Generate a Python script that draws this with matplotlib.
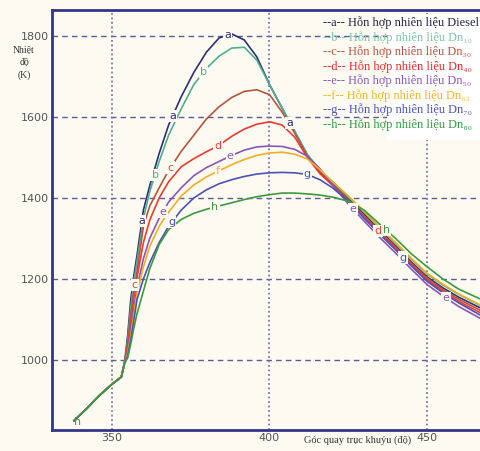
import numpy as np
import matplotlib.pyplot as plt

# crank angle (deg) and temperature (K) for each fuel blend
x = [338, 342, 346, 350, 353, 354, 355, 356, 357, 358, 360, 362, 365, 368, 372, 376,
     380, 384, 388, 392, 396, 400, 404, 408, 412, 416, 420, 425, 430, 435, 440, 445,
     450, 455, 460, 467]
start = [850, 880, 912, 940, 958, 992]

t_a = start + [1060, 1150, 1210, 1260, 1370, 1430, 1510, 1580, 1650, 1710, 1760, 1795, 1805, 1790,
               1748, 1680, 1622, 1563, 1505, 1465, 1437, 1398, 1360, 1320, 1282, 1242, 1205, 1178, 1155, 1128]
t_b = start + [1050, 1130, 1195, 1245, 1350, 1415, 1490, 1555, 1620, 1680, 1720, 1750, 1770, 1772,
               1740, 1680, 1622, 1565, 1508, 1468, 1440, 1402, 1365, 1326, 1288, 1249, 1212, 1185, 1162, 1134]
t_c = start + [1040, 1110, 1170, 1220, 1330, 1380, 1425, 1468, 1515, 1555, 1595, 1625, 1648, 1663,
               1667, 1655, 1612, 1560, 1503, 1462, 1434, 1395, 1356, 1317, 1279, 1239, 1202, 1174, 1150, 1122]
t_d = start + [1030, 1090, 1155, 1205, 1290, 1345, 1400, 1440, 1477, 1497, 1514, 1530, 1552, 1570,
               1582, 1588, 1580, 1550, 1500, 1460, 1431, 1392, 1353, 1314, 1276, 1236, 1198, 1170, 1145, 1116]
t_e = start + [1020, 1070, 1130, 1180, 1250, 1300, 1350, 1390, 1425, 1455, 1475, 1490, 1505, 1518,
               1526, 1528, 1527, 1520, 1503, 1472, 1432, 1385, 1343, 1302, 1264, 1224, 1186, 1158, 1132, 1102]
t_f = start + [1015, 1060, 1115, 1165, 1230, 1280, 1330, 1365, 1405, 1432, 1452, 1467, 1482, 1495,
               1505, 1511, 1513, 1508, 1496, 1470, 1440, 1405, 1367, 1328, 1290, 1251, 1214, 1187, 1163, 1135]
t_g = start + [1010, 1050, 1100, 1150, 1200, 1240, 1290, 1330, 1370, 1400, 1420, 1435, 1445, 1453,
               1459, 1462, 1463, 1462, 1458, 1445, 1425, 1392, 1350, 1310, 1272, 1232, 1194, 1166, 1141, 1110]
t_h = start + [1005, 1040, 1080, 1115, 1170, 1225, 1285, 1322, 1347, 1362, 1372, 1380, 1388, 1396,
               1403, 1408, 1412, 1412, 1410, 1407, 1402, 1392, 1370, 1335, 1300, 1262, 1230, 1200, 1175, 1150]

series = [t_a, t_b, t_c, t_d, t_e, t_f, t_g, t_h]
letters = ['a', 'b', 'c', 'd', 'e', 'f', 'g', 'h']
names = ['Diesel', 'Dn₁₀', 'Dn₃₀', 'Dn₄₀', 'Dn₅₀', 'Dn₆₂', 'Dn₇₀', 'Dn₈₀']
colors = ['#2e2e78', '#4fae8e', '#b4553c', '#ec3a30', '#8a55b8', '#f2ae22', '#4a52b8', '#3c9a3c']
legend_colors = ['#202040', '#7cc4ac', '#b4553c', '#ec2a2a', '#8a55b8', '#f2b622', '#4a52b8', '#2e9a3e']

# where the little letters sit on each curve
label_x = [[359.5, 369.3, 386.8, 406.5],
           [363.7, 379.0],
           [368.6, 357.3],
           [383.7, 434.4],
           [366.2, 387.5, 426.5, 456.0],
           [383.7],
           [369.0, 412.0, 442.4],
           [382.7, 437.0]]

bg = '#fdfbf1'
fig = plt.figure(figsize=(4.81, 4.51), dpi=100, facecolor=bg)
ax = fig.add_axes([52/481, 21/451, 1 - 52/481, 420/451])
ax.set_facecolor(bg)

for t, c in zip(series, colors):
    ax.plot(x, t, color=c, lw=1.2, zorder=3)
for t, c, lx, l in zip(series, colors, label_x, letters):
    for xx in lx:
        ax.text(xx, np.interp(xx, x, t), l, color=c, fontsize=8, ha='center', va='center',
                zorder=4, bbox=dict(boxstyle='square,pad=0.1', fc=bg, ec='none'))
ax.text(339, 847, 'h', color='#3c9a3c', fontsize=8, ha='center', va='center', zorder=4)

ax.set_xlim(331, 467.1)
ax.set_ylim(827, 1864)
ax.set_xticks([350, 400, 450])
ax.set_yticks([1000, 1200, 1400, 1600, 1800])
ax.tick_params(length=0, labelsize=8, labelcolor='#555555', pad=2)
for yy in [1000, 1200, 1400, 1600, 1800]:
    ax.axhline(yy, color='#5a5a9a', lw=1, ls=(0, (4, 3)), zorder=1)
for xx in [350, 400, 450]:
    ax.axvline(xx, color='#7878b0', lw=1.3, ls=(0, (1, 1.5)), zorder=1)

for s in ['top', 'left', 'bottom']:
    ax.spines[s].set_color('#34348a')
    ax.spines[s].set_linewidth(2)
ax.spines['right'].set_visible(False)

# legend written as plain text on a white patch
ax.add_patch(plt.Rectangle((0.78, 0.69), 0.3, 0.3, transform=ax.transAxes,
                           fc='white', ec='none', zorder=5))
for i, (l, n, c) in enumerate(zip(letters, names, legend_colors)):
    fig.text(323/481, 1 - (23 + i*14.5)/451, f'--{l}-- Hỗn hợp nhiên liệu {n}', color=c,
             fontsize=8.9, family=['Liberation Serif', 'DejaVu Serif'], va='center', zorder=6)

fig.text(24/481, 1 - 63/451, 'Nhiệt\nđộ\n(K)', fontsize=7, family='Liberation Serif',
         color='#333333', ha='center', va='center', linespacing=1.5)
fig.text(358/481, 1 - 440/451, 'Góc quay trục khuỷu (độ)', fontsize=7.5,
         family='Liberation Serif', color='#333333', ha='center', va='center')

fig.savefig('out.png', dpi=100, facecolor=bg)
